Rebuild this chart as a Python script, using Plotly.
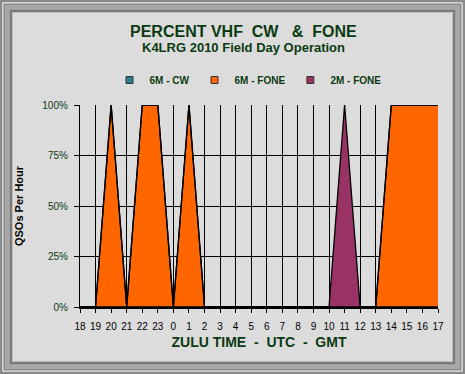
import plotly.graph_objects as go

hours = ["18","19","20","21","22","23","0","1","2","3","4","5","6","7","8","9","10","11","12","13","14","15","16","17"]
cw_6m =   [0]*24
fone_6m = [0,0,100,0,100,100,0,100,0,0,0,0,0,0,0,0,0,0,0,0,100,100,100,100]
fone_2m = [0,0,0,0,0,0,0,0,0,0,0,0,0,0,0,0,0,100,0,0,0,0,0,0]
y_ticks = [0,25,50,75,100]
y_tick_labels = ["0%","25%","50%","75%","100%"]

series = [("6M - CW", cw_6m, "#2A8080"), ("6M - FONE", fone_6m, "#FF6600"), ("2M - FONE", fone_2m, "#993366")]

fig = go.Figure()
for name, vals, col in series:
    fig.add_trace(go.Scatter(x=list(range(len(hours))), y=vals, name=name, mode="lines",
                             stackgroup="one", fillcolor=col, showlegend=False,
                             line=dict(color="black", width=1.3)))
for name, vals, col in series:
    fig.add_trace(go.Scatter(x=[None], y=[None], name="<b>" + name + "</b>", mode="markers",
                             marker=dict(symbol="square", size=7, color=col,
                                         line=dict(color="#333333", width=1))))

txt = "#0B3A12"
L, R, T, B = 80, 438, 105, 307
PW, PH = R - L, B - T
W, H = 465, 374
fig.update_layout(
    width=W, height=H,
    margin=dict(l=L, r=W - R, t=T, b=H - B, autoexpand=False),
    paper_bgcolor="#DCDCDC", plot_bgcolor="#DCDCDC",
    font=dict(family="Arial, Liberation Sans", color=txt),
    showlegend=True,
    legend=dict(orientation="h", x=(248 - L) / PW, xanchor="center", y=1 + (T - 80) / PH, yanchor="middle",
                font=dict(size=10, color=txt, family="Arial"),
                bgcolor="rgba(0,0,0,0)", itemwidth=30, traceorder="normal", tracegroupgap=0),
)
fig.add_annotation(text="<b>PERCENT VHF&nbsp; CW &nbsp; &amp;&nbsp; FONE</b>", xref="paper", yref="paper",
                   x=(243 - L) / PW, y=1 + (T - 31) / PH, showarrow=False,
                   font=dict(size=16, color=txt), xanchor="center", yanchor="middle")
fig.add_annotation(text="<b>K4LRG 2010 Field Day Operation</b>", xref="paper", yref="paper",
                   x=(243 - L) / PW, y=1 + (T - 48) / PH, showarrow=False,
                   font=dict(size=13, color=txt), xanchor="center", yanchor="middle")

fig.update_xaxes(type="linear", range=[0, len(hours) - 1], tickmode="array",
                 tickvals=list(range(len(hours))), ticktext=hours,
                 showgrid=True, gridcolor="black", gridwidth=1,
                 ticks="outside", ticklen=4, tickcolor="black",
                 showline=True, linecolor="black", linewidth=1.5,
                 tickfont=dict(size=10, color="black", family="Arial"),
                 tickprefix="<b>", ticksuffix="</b>", ticklabelstandoff=5,
                 title=dict(text="<b>ZULU TIME&nbsp; - &nbsp;UTC&nbsp; - &nbsp;GMT</b>",
                            font=dict(size=14, color=txt), standoff=6),
                 zeroline=False, automargin=False)
fig.update_yaxes(range=[0, 100], tickmode="array", tickvals=y_ticks, ticktext=y_tick_labels,
                 showgrid=True, gridcolor="black", gridwidth=1,
                 ticks="outside", ticklen=5, tickcolor="black",
                 showline=True, linecolor="black", linewidth=1.2,
                 tickfont=dict(size=10, color=txt, family="Arial"),
                 tickprefix="<b>", ticksuffix="</b>", ticklabelstandoff=4,
                 title=dict(text="<b>QSOs Per Hour</b>", font=dict(size=11, color="black"), standoff=16),
                 zeroline=False, automargin=False)

# double frame around the chart
shapes = []
frames = [(0, 2.5, "#8A8A8A"), (2.5, 3.5, "#F2F2F2"), (3.5, 5, "#8A8A8A"), (5, 9.5, "#A8A8A8"),
          (9.5, 12, "#7A7A7A"), (12, 13, "#BDBDBD")]
for a, b, c in frames:
    w = b - a
    m = (a + b) / 2
    shapes.append(dict(type="rect", xref="paper", yref="paper",
                       x0=(m - L) / PW, x1=(W - m - L) / PW,
                       y0=(B - (H - m)) / PH, y1=(B - m) / PH,
                       line=dict(color=c, width=w), fillcolor="rgba(0,0,0,0)", layer="below"))
fig.update_layout(shapes=shapes)
fig.write_html("out.html", config={"displayModeBar": False},
               post_script="document.body.style.margin='0';document.body.style.background='#DCDCDC';")
